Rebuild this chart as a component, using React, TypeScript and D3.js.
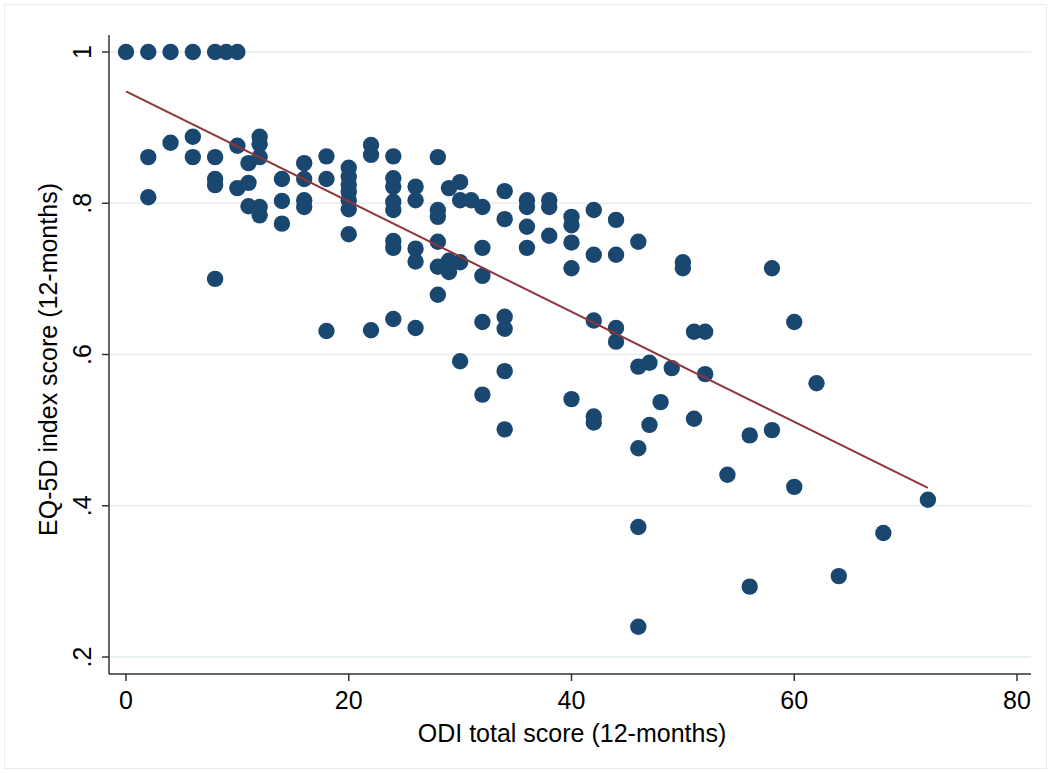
import * as d3 from "d3";
import { useEffect, useRef } from "react";

// ODI total score (12-months) for each patient
const odi = [
  0, 2, 2, 2, 4, 4, 6, 6, 6, 8, 8, 8, 8, 8, 9, 10, 10, 10,
  11, 11, 11, 12, 12, 12, 12, 12, 14, 14, 14, 16, 16, 16, 16,
  18, 18, 18, 20, 20, 20, 20, 20, 20, 20, 22, 22, 22,
  24, 24, 24, 24, 24, 24, 24, 24, 26, 26, 26, 26, 26,
  28, 28, 28, 28, 28, 28, 29, 29, 29, 30, 30, 30, 30, 31,
  32, 32, 32, 32, 32, 34, 34, 34, 34, 34, 34, 36, 36, 36, 36,
  38, 38, 38, 40, 40, 40, 40, 40, 42, 42, 42, 42, 42,
  44, 44, 44, 44, 46, 46, 46, 46, 46, 47, 47, 48, 49, 50, 50,
  51, 51, 52, 52, 54, 56, 56, 58, 58, 60, 60, 62, 64, 68, 72,
];

// EQ-5D index score (12-months), same order as odi
const eq5d = [
  1, 1, 0.861, 0.808, 1, 0.88, 1, 0.888, 0.861, 1, 0.861, 0.832, 0.824, 0.7, 1, 1, 0.876, 0.82,
  0.853, 0.827, 0.796, 0.888, 0.878, 0.861, 0.795, 0.784, 0.832, 0.803, 0.773, 0.853, 0.832, 0.804, 0.795,
  0.862, 0.832, 0.631, 0.847, 0.835, 0.824, 0.815, 0.804, 0.792, 0.759, 0.877, 0.864, 0.632,
  0.862, 0.833, 0.822, 0.802, 0.791, 0.75, 0.741, 0.647, 0.822, 0.804, 0.74, 0.723, 0.635,
  0.861, 0.791, 0.782, 0.749, 0.716, 0.679, 0.82, 0.724, 0.709, 0.828, 0.804, 0.722, 0.591, 0.804,
  0.795, 0.741, 0.704, 0.643, 0.547, 0.816, 0.779, 0.65, 0.634, 0.578, 0.501, 0.804, 0.795, 0.769, 0.741,
  0.804, 0.795, 0.757, 0.782, 0.771, 0.748, 0.714, 0.541, 0.791, 0.732, 0.645, 0.518, 0.51,
  0.778, 0.732, 0.635, 0.617, 0.749, 0.584, 0.476, 0.372, 0.24, 0.589, 0.507, 0.537, 0.582, 0.722, 0.714,
  0.63, 0.515, 0.63, 0.574, 0.441, 0.493, 0.293, 0.714, 0.5, 0.643, 0.425, 0.562, 0.307, 0.364, 0.408,
];

// fitted line end points
const fitX = [0, 72];
const fitY = [0.948, 0.4235];

const xTicks = [0, 20, 40, 60, 80];
const yTicks = [0.2, 0.4, 0.6, 0.8, 1];
const yTickLabels = [".2", ".4", ".6", ".8", "1"];

export default function App() {
  const ref = useRef<SVGSVGElement | null>(null);

  useEffect(() => {
    document.body.style.margin = "0";

    const width = 1051;
    const height = 773;
    const axisLeft = 109;
    const axisBottom = 674;
    const axisRight = 1031;
    const axisTop = 35;
    const font = "'Liberation Sans', Arial, Helvetica, sans-serif";

    const svg = d3.select(ref.current)
      .attr("width", width)
      .attr("height", height);

    svg.selectAll("*").remove();

    svg.append("rect")
      .attr("x", 4.5).attr("y", 4.5)
      .attr("width", width - 9).attr("height", height - 9)
      .attr("fill", "#fff")
      .attr("stroke", "#ebebeb");

    const x = d3.scaleLinear().domain([0, 80]).range([126, 1017]);
    const y = d3.scaleLinear().domain([0.2, 1]).range([657, 52]);

    // gridlines
    svg.append("g")
      .selectAll("line")
      .data(yTicks)
      .join("line")
      .attr("x1", axisLeft)
      .attr("x2", axisRight)
      .attr("y1", d => y(d))
      .attr("y2", d => y(d))
      .attr("stroke", "#eaf2f3")
      .attr("stroke-width", 2);

    // points
    svg.append("g")
      .selectAll("circle")
      .data(odi.map((d, i) => [d, eq5d[i]]))
      .join("circle")
      .attr("cx", d => x(d[0]))
      .attr("cy", d => y(d[1]))
      .attr("r", 8.2)
      .attr("fill", "#1a476f");

    // fitted values
    const line = d3.line<number>()
      .x(d => x(fitX[d]))
      .y(d => y(fitY[d]));
    svg.append("path")
      .attr("d", line([0, 1]))
      .attr("fill", "none")
      .attr("stroke", "#90353b")
      .attr("stroke-width", 2);

    // axes
    const axisColor = "#333";
    svg.append("line")
      .attr("x1", axisLeft).attr("x2", axisLeft)
      .attr("y1", axisTop).attr("y2", axisBottom)
      .attr("stroke", axisColor).attr("stroke-width", 1.5);
    svg.append("line")
      .attr("x1", axisLeft).attr("x2", axisRight)
      .attr("y1", axisBottom).attr("y2", axisBottom)
      .attr("stroke", axisColor).attr("stroke-width", 1.5);

    const xg = svg.append("g");
    xg.selectAll("line")
      .data(xTicks)
      .join("line")
      .attr("x1", d => x(d)).attr("x2", d => x(d))
      .attr("y1", axisBottom).attr("y2", axisBottom + 7)
      .attr("stroke", axisColor).attr("stroke-width", 1.5);
    xg.selectAll("text")
      .data(xTicks)
      .join("text")
      .attr("x", d => x(d))
      .attr("y", 709)
      .attr("text-anchor", "middle")
      .style("font-family", font)
      .style("font-size", "25px")
      .text(d => d);

    const yg = svg.append("g");
    yg.selectAll("line")
      .data(yTicks)
      .join("line")
      .attr("x1", axisLeft - 7).attr("x2", axisLeft)
      .attr("y1", d => y(d)).attr("y2", d => y(d))
      .attr("stroke", axisColor).attr("stroke-width", 1.5);
    yg.selectAll("text")
      .data(yTicks)
      .join("text")
      .attr("transform", d => `translate(91,${y(d)}) rotate(-90)`)
      .attr("text-anchor", "middle")
      .style("font-family", font)
      .style("font-size", "25px")
      .text((d, i) => yTickLabels[i]);

    svg.append("text")
      .attr("x", 572)
      .attr("y", 742)
      .attr("text-anchor", "middle")
      .style("font-family", font)
      .style("font-size", "25px")
      .text("ODI total score (12-months)");

    svg.append("text")
      .attr("transform", `translate(57,${(axisTop + axisBottom) / 2 + 5}) rotate(-90)`)
      .attr("text-anchor", "middle")
      .style("font-family", font)
      .style("font-size", "25px")
      .text("EQ-5D index score (12-months)");
  }, []);

  return <svg ref={ref} style={{ display: "block" }}></svg>;
}
